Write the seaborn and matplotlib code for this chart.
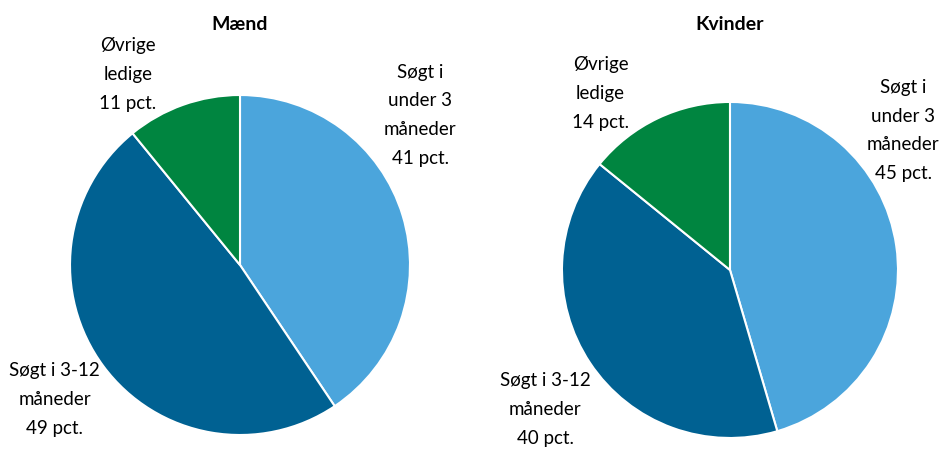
import matplotlib.pyplot as plt
import seaborn as sns

# Andel ledige efter søgetid
kategorier = ["Søgt i\nunder 3\nmåneder", "Søgt i 3-12\nmåneder", "Øvrige\nledige"]
maend = [41, 49, 11]
kvinder = [45, 40, 14]
titler = ["Mænd", "Kvinder"]

farver = sns.color_palette(["#4BA5DC", "#006192", "#008540"])

sns.set_style("white")
plt.rcParams['font.family'] = ['Lato', 'DejaVu Sans']

fig = plt.figure(figsize=(9.41, 4.5), dpi=100)

# akse-placering og label-placering (i pie-koordinater)
akser = [[0.0744, 0.0333, 0.3613, 0.7556], [0.5972, 0.0267, 0.3571, 0.7467]]
label_pos = [
    [(1.06, 0.88), (-1.09, -0.79), (-0.66, 1.12)],
    [(1.03, 0.83), (-1.10, -0.83), (-0.77, 1.05)],
]

for i, vals in enumerate([maend, kvinder]):
    ax = fig.add_axes(akser[i])
    ax.pie(vals, colors=farver, startangle=90, counterclock=False,
           wedgeprops=dict(edgecolor='white', linewidth=1.5))
    ax.set_xlim(-1, 1)
    ax.set_ylim(-1, 1)
    ax.set_aspect('equal')
    for k, (x, y) in enumerate(label_pos[i]):
        ax.text(x, y, f"{kategorier[k]}\n{vals[k]} pct.", ha='center', va='center',
                fontsize=13.5, linespacing=1.85, color='black', clip_on=False)

fig.text(240 / 941, 1 - 25 / 450, titler[0], ha='center', va='center',
         fontsize=14, fontweight='bold', color='black')
fig.text(730 / 941, 1 - 25 / 450, titler[1], ha='center', va='center',
         fontsize=14, fontweight='bold', color='black')

fig.savefig("out.png", dpi=100)
